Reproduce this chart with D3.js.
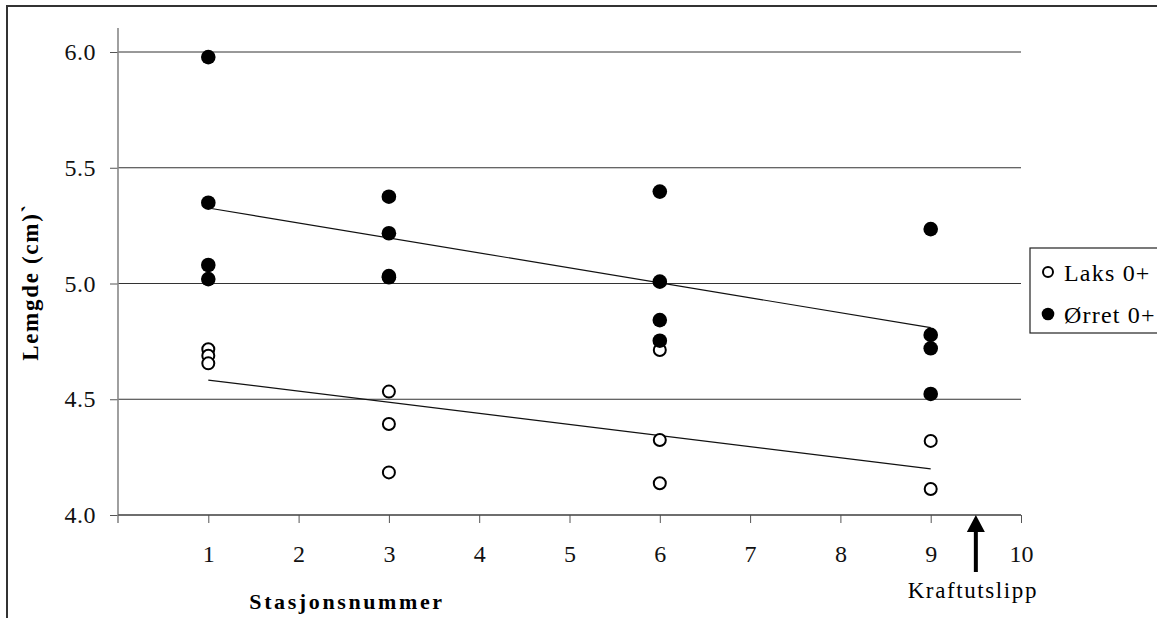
<!DOCTYPE html>
<html>
<head>
<meta charset="utf-8">
<script src="https://cdn.jsdelivr.net/npm/d3@7"></script>
<style>
  html, body { margin: 0; padding: 0; background: #fff; }
  svg { display: block; font-family: "Liberation Serif", "Times New Roman", serif; }
  svg text { font-family: "Liberation Serif", "Times New Roman", serif; }
</style>
</head>
<body>
<svg id="chart" width="1157" height="618"></svg>
<script>
// Stations sampled along the river
const stations = [1, 3, 6, 9];

// Fish lengths (cm) per station, salmon 0+
const laksLengths = [
  [4.716, 4.688, 4.655],
  [4.533, 4.393, 4.184],
  [4.713, 4.324, 4.137],
  [4.320, 4.112]
];

// Fish lengths (cm) per station, trout 0+
const orretLengths = [
  [5.978, 5.349, 5.080, 5.019],
  [5.375, 5.217, 5.032, 5.027],
  [5.397, 5.008, 4.842, 4.753],
  [5.235, 4.778, 4.720, 4.523]
];

// Linear trend endpoints (station, length)
const laksTrend = [[1, 4.583], [9, 4.199]];
const orretTrend = [[1, 5.326], [9, 4.809]];

const xTicks = [1, 2, 3, 4, 5, 6, 7, 8, 9, 10];
const yTicks = [4.0, 4.5, 5.0, 5.5, 6.0];
const seriesNames = ["Laks 0+", "Ørret 0+"];
const outletStation = 9.5;

const svg = d3.select("#chart");
const plot = { left: 118, right: 1021, top: 52, bottom: 515 };

const x = d3.scaleLinear().domain([0, 10]).range([plot.left, plot.right]);
const y = d3.scaleLinear().domain([4.0, 6.0]).range([plot.bottom, plot.top]);

// outer frame
svg.append("path")
  .attr("d", "M7,618 V6 H1157")
  .attr("fill", "none").attr("stroke", "#333").attr("stroke-width", 2);

// horizontal gridlines
svg.append("g").selectAll("line").data(yTicks).join("line")
  .attr("x1", plot.left).attr("x2", plot.right)
  .attr("y1", d => y(d)).attr("y2", d => y(d))
  .attr("stroke", "#333").attr("stroke-width", 1);

// y axis
const yAxis = svg.append("g").attr("transform", `translate(${plot.left},0)`)
  .call(d3.axisLeft(y).tickValues(yTicks).tickFormat(d3.format(".1f")).tickSize(8).tickPadding(14));
yAxis.attr("font-family", null).attr("font-size", null);
yAxis.select(".domain").remove();
yAxis.selectAll(".tick line").attr("stroke", "#555");
yAxis.selectAll(".tick text")
  .attr("font-size", 24).attr("fill", "#111").attr("letter-spacing", 0.5);
svg.append("line")
  .attr("x1", plot.left).attr("x2", plot.left)
  .attr("y1", 28).attr("y2", plot.bottom + 8)
  .attr("stroke", "#888").attr("stroke-width", 1.6);

// x axis
const xAxis = svg.append("g").attr("transform", `translate(0,${plot.bottom})`)
  .call(d3.axisBottom(x).tickValues(xTicks).tickSize(8).tickPadding(22));
xAxis.attr("font-family", null).attr("font-size", null);
xAxis.select(".domain").remove();
xAxis.selectAll(".tick line").attr("stroke", "#555");
xAxis.selectAll(".tick text")
  .attr("font-size", 24).attr("fill", "#111");
svg.append("line")
  .attr("x1", plot.left).attr("x2", plot.right)
  .attr("y1", plot.bottom).attr("y2", plot.bottom)
  .attr("stroke", "#444").attr("stroke-width", 1.2);

// trend lines
const line = d3.line().x(d => x(d[0])).y(d => y(d[1]));
[laksTrend, orretTrend].forEach(t => {
  svg.append("path").attr("d", line(t))
    .attr("fill", "none").attr("stroke", "#111").attr("stroke-width", 1.2);
});

// flatten per-station values into points
const toPoints = arr => stations.flatMap((s, i) => arr[i].map(v => ({ s, v })));

svg.append("g").selectAll("circle").data(toPoints(laksLengths)).join("circle")
  .attr("cx", d => x(d.s)).attr("cy", d => y(d.v)).attr("r", 6)
  .attr("fill", "#fff").attr("stroke", "#000").attr("stroke-width", 2);

svg.append("g").selectAll("circle").data(toPoints(orretLengths)).join("circle")
  .attr("cx", d => x(d.s)).attr("cy", d => y(d.v)).attr("r", 7.3)
  .attr("fill", "#000");

// axis titles
svg.append("text")
  .attr("transform", `translate(38,282) rotate(-90)`)
  .attr("text-anchor", "middle")
  .attr("font-size", 23).attr("font-weight", "bold")
  .attr("letter-spacing", 1.7)
  .text("Lemgde (cm)`");

svg.append("text")
  .attr("x", 347).attr("y", 609)
  .attr("text-anchor", "middle")
  .attr("font-size", 22).attr("font-weight", "bold")
  .attr("letter-spacing", 2.6)
  .text("Stasjonsnummer");

// power plant outlet marker
const ax = x(outletStation);
svg.append("line")
  .attr("x1", ax).attr("x2", ax).attr("y1", plot.bottom + 14).attr("y2", 572)
  .attr("stroke", "#000").attr("stroke-width", 4);
svg.append("path")
  .attr("d", `M${ax},${plot.bottom} L${ax - 9},${plot.bottom + 17} L${ax + 9},${plot.bottom + 17} Z`)
  .attr("fill", "#000");
svg.append("text")
  .attr("x", ax - 3).attr("y", 598)
  .attr("text-anchor", "middle")
  .attr("font-size", 23).attr("letter-spacing", 1.6)
  .text("Kraftutslipp");

// legend
const lg = svg.append("g");
lg.append("rect")
  .attr("x", 1030).attr("y", 248).attr("width", 200).attr("height", 85)
  .attr("fill", "#fff").attr("stroke", "#222").attr("stroke-width", 1.2);
const legendRows = [
  { name: seriesNames[0], cy: 272, open: true },
  { name: seriesNames[1], cy: 314, open: false }
];
legendRows.forEach(r => {
  lg.append("circle")
    .attr("cx", 1048).attr("cy", r.cy).attr("r", r.open ? 5 : 6.3)
    .attr("fill", r.open ? "#fff" : "#000")
    .attr("stroke", "#000").attr("stroke-width", r.open ? 2 : 0);
  lg.append("text")
    .attr("x", 1064).attr("y", r.cy + 9)
    .attr("font-size", 24).attr("letter-spacing", 1.2)
    .text(r.name);
});
</script>
</body>
</html>
